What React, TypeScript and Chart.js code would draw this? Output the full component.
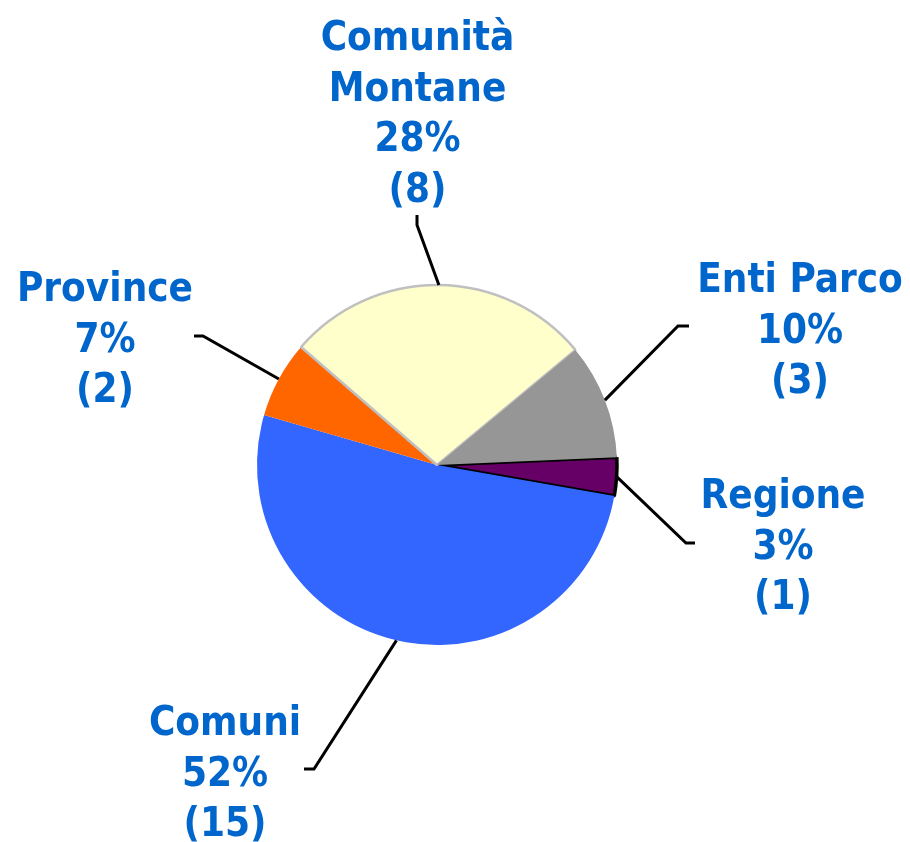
import React, { useEffect, useRef } from "react";
import Chart from "chart.js/auto";

const categories: string[] = ["Regione", "Comuni", "Province", "Comunità\nMontane", "Enti Parco"];
const values: number[] = [1, 15, 2, 8, 3];
const colors: string[] = ["#660066", "#3366FF", "#FF6600", "#FFFFCC", "#969696"];
const borderColors: string[] = ["#000000", "#3366FF", "#FF6600", "#C0C0C0", "#969696"];
const borderWidths: number[] = [3.5, 0, 0, 2.5, 0];

// label layout relative to pie centre: text centre x / first baseline y, leader elbow and tail end
const labelLayout = [
  { tx: 346, ty: 43, elbow: [249, 78], end: [258, 78] },
  { tx: -212, ty: 270, elbow: [-123, 304], end: [-133, 304] },
  { tx: -332, ty: -164, elbow: [-234, -129], end: [-243, -129] },
  { tx: -19.5, ty: -415, elbow: [-20, -240], end: [-20, -250] },
  { tx: 363, ty: -173, elbow: [241, -139], end: [252, -139] },
];

const TEXT_COLOR = "#0066CC";
const FONT_SIZE = 40;
const LINE_H = 50.5;

const labelPlugin = {
  id: "pieLabels",
  afterDatasetsDraw(chart: any) {
    const ctx: CanvasRenderingContext2D = chart.ctx;
    const meta = chart.getDatasetMeta(0);
    const total = values.reduce((a, b) => a + b, 0);

    ctx.save();
    ctx.font = `bold ${FONT_SIZE}px "DejaVu Sans Condensed", serif`;
    const w1 = ctx.measureText("Comunità Montane").width;
    ctx.font = `bold ${FONT_SIZE}px serif`;
    const w2 = ctx.measureText("Comunità Montane").width;
    ctx.restore();
    const hasCondensed = Math.abs(w1 - w2) > 0.5;
    const fontFamily = hasCondensed ? '"DejaVu Sans Condensed"' : '"DejaVu Sans"';
    const scaleX = hasCondensed ? 1 : 0.9;

    meta.data.forEach((arc: any, i: number) => {
      const { x, y, startAngle, endAngle, outerRadius } = arc.getProps(
        ["x", "y", "startAngle", "endAngle", "outerRadius"],
        true
      );
      const mid = (startAngle + endAngle) / 2;
      const ax = x + Math.cos(mid) * outerRadius;
      const ay = y + Math.sin(mid) * outerRadius;
      const L = labelLayout[i];

      ctx.save();
      ctx.strokeStyle = "#000000";
      ctx.lineWidth = 3;
      ctx.lineJoin = "miter";
      ctx.lineCap = "butt";
      ctx.beginPath();
      ctx.moveTo(ax, ay);
      ctx.lineTo(x + L.elbow[0], y + L.elbow[1]);
      ctx.lineTo(x + L.end[0], y + L.end[1]);
      ctx.stroke();
      ctx.restore();

      const pct = Math.round((values[i] / total) * 100);
      const lines = [...categories[i].split("\n"), `${pct}%`, `(${values[i]})`];
      ctx.save();
      ctx.fillStyle = TEXT_COLOR;
      ctx.font = `bold ${FONT_SIZE}px ${fontFamily}`;
      ctx.textAlign = "center";
      ctx.textBaseline = "alphabetic";
      lines.forEach((t, k) => {
        ctx.save();
        ctx.translate(x + L.tx, y + L.ty + k * LINE_H);
        ctx.scale(scaleX, 1);
        ctx.fillText(t, 0, 0);
        ctx.restore();
      });
      ctx.restore();
    });
  },
};

export default function App() {
  const ref = useRef<HTMLCanvasElement | null>(null);
  useEffect(() => {
    document.body.style.margin = "0";
    const canvas = ref.current!;
    const chart = new Chart(canvas, {
      type: "pie",
      data: {
        labels: categories,
        datasets: [
          {
            data: values,
            backgroundColor: colors,
            borderColor: borderColors,
            borderWidth: borderWidths,
          },
        ],
      },
      options: {
        animation: false,
        responsive: false,
        devicePixelRatio: 1,
        rotation: 87.5,
        radius: 180,
        layout: { padding: { left: 257, right: 293, top: 285, bottom: 197 } },
        plugins: {
          legend: { display: false },
          tooltip: { enabled: false },
        },
      },
      plugins: [labelPlugin],
    });
    return () => chart.destroy();
  }, []);
  return (
    <div style={{ position: "fixed", left: 0, top: 0, width: 910, height: 842, background: "#fff" }}>
      <canvas ref={ref} width={910} height={842} style={{ width: 910, height: 842, display: "block" }} />
    </div>
  );
}
